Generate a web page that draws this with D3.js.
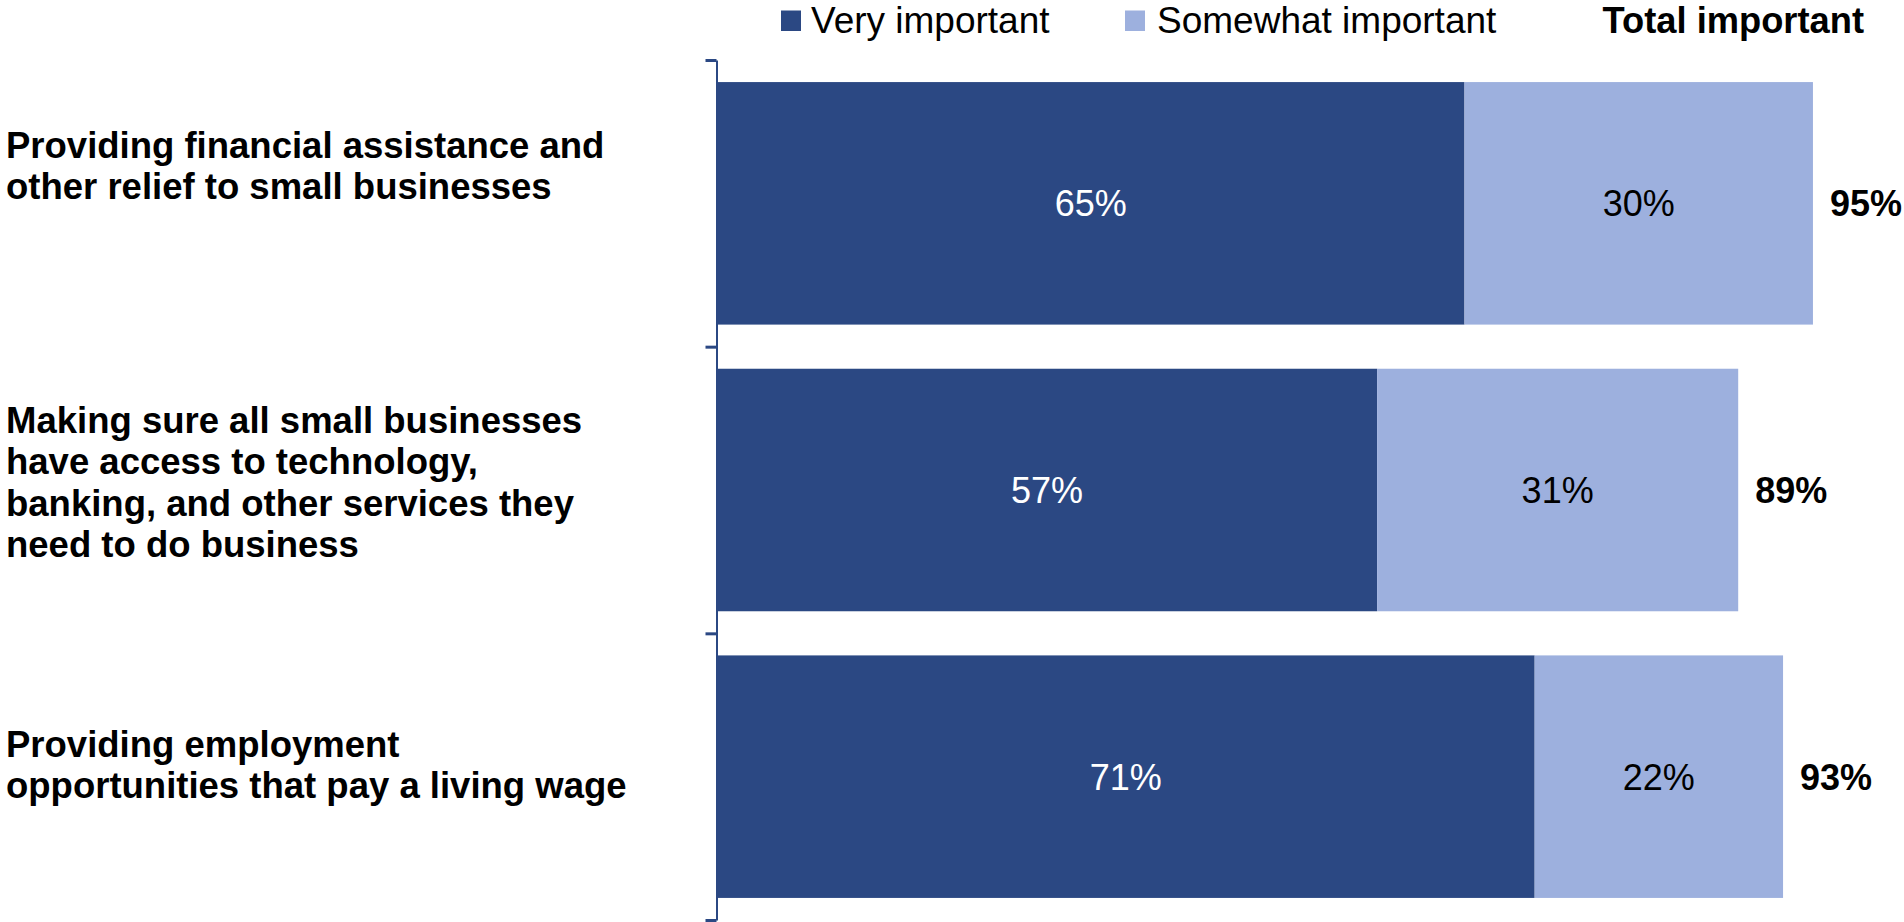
<!DOCTYPE html>
<html>
<head>
<meta charset="utf-8">
<script src="https://cdn.jsdelivr.net/npm/d3@7"></script>
<style>
  html, body { margin: 0; padding: 0; background: #ffffff; }
  svg { display: block; font-family: Arial, "Liberation Sans", sans-serif; }
</style>
</head>
<body>
<svg id="chart" width="1904" height="922"></svg>
<script>
// ---- data ----
const categories = [
  "Providing financial assistance and other relief to small businesses",
  "Making sure all small businesses have access to technology, banking, and other services they need to do business",
  "Providing employment opportunities that pay a living wage"
];
const categoryLines = [
  ["Providing financial assistance and", "other relief to small businesses"],
  ["Making sure all small businesses", "have access to technology,", "banking, and other services they", "need to do business"],
  ["Providing employment", "opportunities that pay a living wage"]
];
const seriesNames = ["Very important", "Somewhat important"];
const veryImportant = [65.0, 57.4, 71.1];
const somewhatImportant = [30.3, 31.4, 21.6];
const totalHeader = "Total important";

// ---- layout / style ----
const W = 1904, H = 922;
const axisX = 717;
const colors = ["#2B4883", "#9DB0DE"];
const labelShift = [-38, -8, -12];
const lineH = 41.5;

const svg = d3.select("#chart");

const x = d3.scaleLinear().domain([0, 100]).range([axisX, axisX + 1150]);
const y = d3.scaleBand().domain(categories).range([60, 920])
  .paddingInner(0.154).paddingOuter(0.077);
const yEdge = d3.scaleLinear().domain([0, categories.length]).range([60, 920]);

// stacked data
const rows = categories.map((c, i) => ({ cat: c, v0: veryImportant[i], v1: somewhatImportant[i] }));
const stack = d3.stack().keys(["v0", "v1"])(rows);

// bars
svg.append("g").selectAll("g").data(stack).join("g")
  .attr("fill", (d, i) => colors[i])
  .selectAll("rect").data(d => d).join("rect")
  .attr("x", d => x(d[0]))
  .attr("y", d => y(d.data.cat))
  .attr("width", d => x(d[1]) - x(d[0]))
  .attr("height", y.bandwidth());

// value labels in segments
svg.append("g").selectAll("g").data(stack).join("g")
  .attr("fill", (d, i) => i === 0 ? "#ffffff" : "#000000")
  .selectAll("text").data(d => d).join("text")
  .attr("x", d => (x(d[0]) + x(d[1])) / 2)
  .attr("y", d => y(d.data.cat) + y.bandwidth() / 2 + 13)
  .attr("text-anchor", "middle")
  .attr("font-size", 36)
  .text(d => Math.round(d[1] - d[0]) + "%");

// total labels
svg.append("g").selectAll("text").data(rows).join("text")
  .attr("x", d => x(d.v0 + d.v1) + 17)
  .attr("y", d => y(d.cat) + y.bandwidth() / 2 + 13)
  .attr("font-size", 36)
  .attr("font-weight", "bold")
  .attr("fill", "#000")
  .text(d => Math.round(d.v0 + d.v1) + "%");

// axis
const axisG = svg.append("g")
  .attr("transform", `translate(${axisX - 0.5},0)`)
  .call(d3.axisLeft(yEdge).tickValues(d3.range(categories.length + 1))
    .tickSize(11).tickSizeOuter(0).tickFormat(""));
axisG.select(".domain").attr("stroke", "#2B4883").attr("stroke-width", 2);
axisG.selectAll(".tick line").attr("stroke", "#2B4883").attr("stroke-width", 3);

// category labels
const catG = svg.append("g");
categories.forEach((c, i) => {
  const lines = categoryLines[i];
  const cy = y(c) + y.bandwidth() / 2;
  const first = cy - (lines.length - 1) * lineH / 2 + 13 + labelShift[i];
  const t = catG.append("text")
    .attr("x", 6)
    .attr("y", first)
    .attr("font-size", 36.5)
    .attr("font-weight", "bold")
    .attr("fill", "#000");
  lines.forEach((ln, j) => {
    t.append("tspan").attr("x", 6).attr("y", first + j * lineH).text(ln);
  });
});

// legend
const legendItems = [
  { name: seriesNames[0], color: colors[0], sx: 781, tx: 811 },
  { name: seriesNames[1], color: colors[1], sx: 1125, tx: 1157 }
];
const lg = svg.append("g");
lg.selectAll("rect").data(legendItems).join("rect")
  .attr("x", d => d.sx).attr("y", 10.5)
  .attr("width", 20).attr("height", 20.5)
  .attr("fill", d => d.color);
lg.selectAll("text").data(legendItems).join("text")
  .attr("x", d => d.tx).attr("y", 33)
  .attr("font-size", 37)
  .attr("fill", "#000")
  .text(d => d.name);
lg.append("text")
  .attr("x", 1864).attr("y", 33)
  .attr("text-anchor", "end")
  .attr("font-size", 36.3)
  .attr("font-weight", "bold")
  .attr("fill", "#000")
  .text(totalHeader);
</script>
</body>
</html>
